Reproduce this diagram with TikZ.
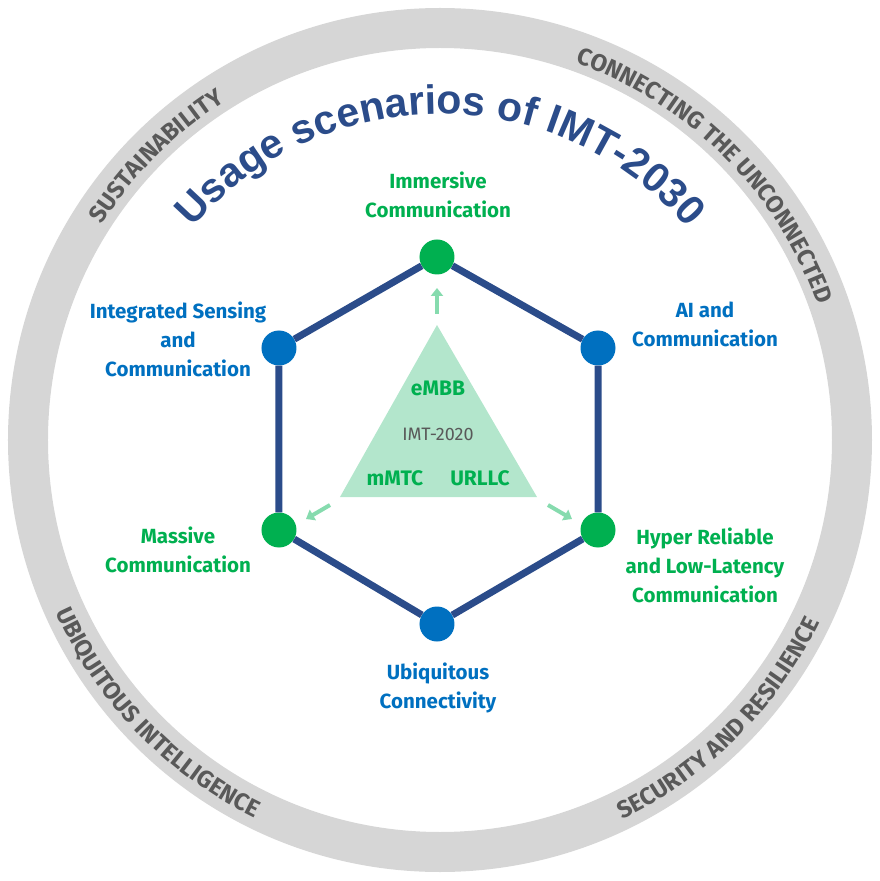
\documentclass[tikz,border=0pt]{standalone}
\usepackage{fontspec}
\setmainfont{Fira Sans}
\newfontfamily\titlefont{Liberation Sans}
\usetikzlibrary{decorations.text,arrows.meta}
\definecolor{hexblue}{HTML}{2B4C8A}
\definecolor{nblue}{HTML}{0070C0}
\definecolor{ngreen}{HTML}{00B050}
\definecolor{trigreen}{HTML}{B3E6CC}
\definecolor{arrgreen}{HTML}{86DBAE}
\definecolor{ringgray}{HTML}{D6D6D6}
\definecolor{ringtext}{HTML}{595959}
\definecolor{imtgray}{HTML}{595959}
\begin{document}
\begin{tikzpicture}[x=1pt,y=1pt,
  dot/.style={circle,inner sep=0pt,minimum size=35pt},
  lbl/.style={align=center,font=\fontsize{20.5}{29}\selectfont\bfseries},
  tri/.style={font=\fontsize{21}{24}\selectfont\bfseries,text=ngreen},
  arr/.style={draw=arrgreen,line width=4pt,-{Triangle[length=8pt,width=12pt]}},
  ringtxt/.style={decorate,decoration={text along path,text align=center,
     text={|\fontsize{24}{24}\selectfont\bfseries\color{ringtext}|#1}}}]
\useasboundingbox (-440,-441) rectangle (440,440);
% ring
\draw[ringgray,line width=40pt] (0,0) circle[radius=412];
\path[ringtxt=SUSTAINABILITY] (175:401) arc[start angle=175,end angle=95,radius=401];
\path[ringtxt=CONNECTING THE UNCONNECTED] (90:401) arc[start angle=90,end angle=0,radius=401];
\path[ringtxt=UBIQUITOUS INTELLIGENCE] (180:421) arc[start angle=180,end angle=268,radius=421];
\path[ringtxt=SECURITY AND RESILIENCE] (270:421) arc[start angle=270,end angle=360,radius=421];
% title
\path[decorate,decoration={text along path,text align=center,
  text={|\titlefont\fontsize{41}{41}\selectfont\bfseries\color{hexblue}|Usage scenarios of IMT-2030}}]
  (180:326) arc[start angle=180,end angle=0,radius=326];
% hexagon
\node[dot,fill=ngreen] (n1) at (-3,183) {};
\node[dot,fill=nblue] (n2) at (158,92) {};
\node[dot,fill=ngreen] (n3) at (158,-90) {};
\node[dot,fill=nblue] (n4) at (-3,-184) {};
\node[dot,fill=ngreen] (n5) at (-161,-90) {};
\node[dot,fill=nblue] (n6) at (-161,92) {};
\draw[hexblue,line width=7pt,line join=round]
  (n1)--(n2) (n2)--(n3) (n3)--(n4) (n4)--(n5) (n5)--(n6) (n6)--(n1);
% triangle
\fill[trigreen] (-3,115) -- (97,-57) -- (-100,-57) -- cycle;
\node[tri] (embb) at (-2,52) {eMBB};
\node[font=\fontsize{18}{20}\selectfont,text=imtgray] (imt) at (-2,6) {IMT-2020};
\node[tri] (mmtc) at (-45,-38) {mMTC};
\node[tri] (urllc) at (40,-38) {URLLC};
\coordinate (a1s) at (-3,126); \coordinate (a1e) at (-3,152);
\coordinate (a2s) at (-110,-65); \coordinate (a2e) at (-134,-79);
\coordinate (a3s) at (108,-65); \coordinate (a3e) at (132,-79);
\draw[arr] (a1s)--(a1e);
\draw[arr] (a2s)--(a2e);
\draw[arr] (a3s)--(a3e);
% labels
\node[lbl,text=ngreen] (l1) at (-2,245) {Immersive\\Communication};
\node[lbl,text=nblue] (l2) at (265,116) {AI and\\Communication};
\node[lbl,text=ngreen] (l3) at (265,-125) {Hyper Reliable\\and Low-Latency\\Communication};
\node[lbl,text=nblue] (l4) at (-2,-248) {Ubiquitous\\Connectivity};
\node[lbl,text=ngreen] (l5) at (-262,-110) {Massive\\Communication};
\node[lbl,text=nblue] (l6) at (-262,101) {Integrated Sensing\\and\\Communication};
\end{tikzpicture}
\end{document}
